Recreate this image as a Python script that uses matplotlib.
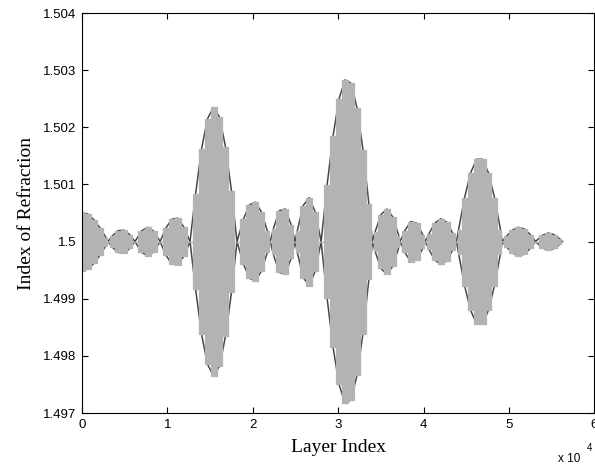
import matplotlib
matplotlib.use("Agg")
import matplotlib.pyplot as plt
import numpy as np

# envelope of the index modulation
layer_index = [
    0, 700, 1400, 2100, 2800, 3050, 3500, 4200, 4900, 5600,
    6200, 7000, 7700, 8400, 9150, 9800, 10500, 11200, 11900, 12650,
    13300, 14000, 14700, 15400, 16100, 16800, 17500, 18150, 18900, 19600,
    20300, 21000, 21700, 22050, 22400, 23100, 23800, 24500, 24950, 25200,
    25900, 26600, 27300, 28000, 28700, 29400, 30100, 30800, 31500, 32200,
    32900, 33600, 34000, 34300, 35000, 35700, 36400, 37100, 37250, 37800,
    38500, 39200, 39900, 40200, 40600, 41300, 42000, 42700, 43400, 43850,
    44100, 44800, 45500, 46200, 46900, 47600, 48300, 49000, 49200, 49700,
    50400, 51100, 51800, 52500, 53100, 53900, 54600, 55300, 56000, 56250,
]
# amplitude in units of 1e-3
amplitude = [
    0.51, 0.48, 0.38, 0.24, 0.07, 0.0, 0.09, 0.19, 0.20, 0.12,
    0.0, 0.19, 0.25, 0.18, 0.0, 0.23, 0.39, 0.41, 0.26, 0.0,
    0.83, 1.62, 2.15, 2.35, 2.18, 1.66, 0.89, 0.0, 0.39, 0.64,
    0.69, 0.52, 0.19, 0.0, 0.22, 0.54, 0.57, 0.29, 0.0, 0.18,
    0.63, 0.77, 0.52, 0.0, 0.99, 1.85, 2.50, 2.83, 2.77, 2.34,
    1.61, 0.65, 0.0, 0.16, 0.47, 0.57, 0.43, 0.10, 0.0, 0.19,
    0.35, 0.32, 0.12, 0.0, 0.13, 0.32, 0.40, 0.34, 0.15, 0.0,
    0.21, 0.77, 1.20, 1.44, 1.44, 1.20, 0.77, 0.21, 0.0, 0.09,
    0.20, 0.25, 0.22, 0.12, 0.0, 0.11, 0.15, 0.12, 0.04, 0.0,
]
base_index = 1.5

x_ticks = [0, 10000, 20000, 30000, 40000, 50000, 60000]
x_tick_labels = ["0", "1", "2", "3", "4", "5", "6"]
y_ticks = [1.497, 1.498, 1.499, 1.5, 1.501, 1.502, 1.503, 1.504]
y_tick_labels = ["1.497", "1.498", "1.499", "1.5", "1.501", "1.502", "1.503", "1.504"]

x = np.array(layer_index)
a = np.array(amplitude) * 1e-3
upper = base_index + a
lower = base_index - a

fig = plt.figure(figsize=(5.95, 4.70), dpi=100)
ax = fig.add_axes([82 / 595, 1 - 413 / 470, 512.4 / 595, 400 / 470])

ax.plot(x, upper, color="#454545", lw=1.1, zorder=1)
ax.plot(x, lower, color="#454545", lw=1.1, zorder=1)
ax.fill_between(x, lower, upper, step="mid", facecolor="#b3b3b3",
                edgecolor="#b3b3b3", lw=0.9, zorder=2)

ax.set_xlim(0, 60000)
ax.set_ylim(1.497, 1.504)
ax.set_xticks(x_ticks)
ax.set_xticklabels(x_tick_labels)
ax.set_yticks(y_ticks)
ax.set_yticklabels(y_tick_labels)
ax.tick_params(direction="in", length=4, width=0.8, top=True, right=True,
               labelsize=9.5, pad=4)
for lab in ax.get_xticklabels() + ax.get_yticklabels():
    lab.set_family("Liberation Sans")
for sp in ax.spines.values():
    sp.set_linewidth(0.8)
    sp.set_zorder(3)

ax.set_xlabel("Layer Index", family="Liberation Serif", fontsize=14, labelpad=6)
ax.set_ylabel("Index of Refraction", family="Liberation Serif", fontsize=14, labelpad=6)

fig.text(558 / 595, 1 - 462 / 470, "x 10", family="Liberation Sans", fontsize=8.5)
fig.text(587 / 595, 1 - 451 / 470, "4", family="Liberation Sans", fontsize=7)

fig.savefig("out.png", dpi=100)
